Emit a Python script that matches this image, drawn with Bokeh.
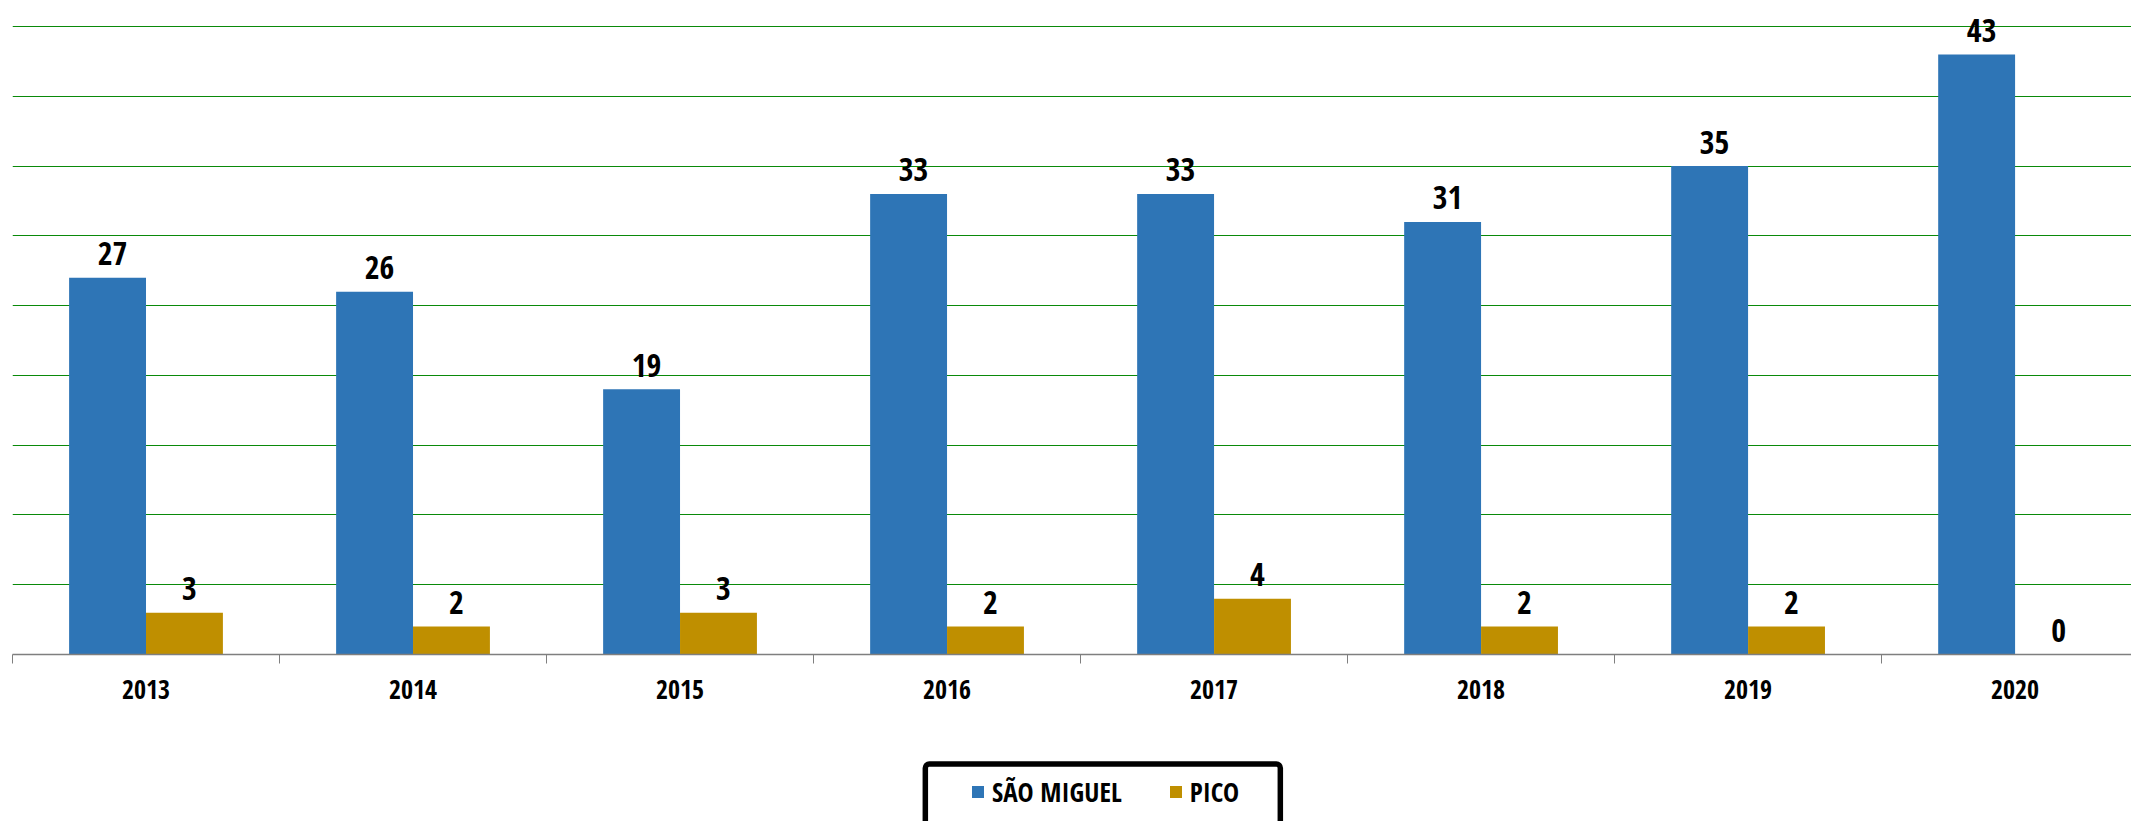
import numpy as np
from bokeh.plotting import figure
from bokeh.layouts import column
from bokeh.models import Range1d, FixedTicker, Legend, LegendItem, ColumnDataSource, BoxAnnotation
from bokeh.core.properties import value
from bokeh.embed import file_html
from bokeh.resources import INLINE

years = ["2013", "2014", "2015", "2016", "2017", "2018", "2019", "2020"]
sao_miguel = [27, 26, 19, 33, 33, 31, 35, 43]
pico = [3, 2, 3, 2, 4, 2, 2, 0]
series_names = ["SÃO MIGUEL", "PICO"]
grid_values = [0, 5, 10, 15, 20, 25, 30, 35, 40, 45]

FONT = "Open Sans Condensed"
BLUE = "#2E75B6"
GOLD = "#BF8F00"

n = len(years)
centers = np.arange(n) + 0.5
bw = 0.288

p = figure(width=2131, height=740, output_backend="svg", toolbar_location=None,
           x_range=Range1d(0, 7.936), y_range=Range1d(0, 46.22),
           min_border_left=12, min_border_right=0, min_border_top=9, min_border_bottom=86)
p.outline_line_color = None

src_b = ColumnDataSource(dict(x=centers - bw / 2, top=sao_miguel, lab=[str(v) for v in sao_miguel]))
src_g = ColumnDataSource(dict(x=centers + bw / 2, top=pico, lab=[str(v) for v in pico]))

p.vbar(x="x", top="top", width=bw, source=src_b, fill_color=BLUE, line_color=None)
p.vbar(x="x", top="top", width=bw, source=src_g, fill_color=GOLD, line_color=None)

for src in (src_b, src_g):
    p.text(x="x", y="top", text="lab", source=src, text_align="center", text_baseline="alphabetic",
           y_offset=-24, x_offset=5, text_font=value(FONT), text_font_size="32px",
           text_font_style="bold", text_color="black")

p.yaxis.visible = False
p.ygrid.ticker = FixedTicker(ticks=grid_values)
p.ygrid.grid_line_color = "#0a8a0a"
p.xgrid.visible = False

ax = p.xaxis[0]
ax.ticker = FixedTicker(ticks=list(centers), minor_ticks=list(np.arange(n + 1)))
ax.major_label_overrides = {float(c): y for c, y in zip(centers, years)}
ax.major_tick_out = 0
ax.major_tick_in = 0
ax.minor_tick_out = 9
ax.minor_tick_in = 0
ax.minor_tick_line_color = "#7f7f7f"
ax.axis_line_color = "#7f7f7f"
ax.axis_line_width = 1.5
ax.major_label_standoff = 16
ax.major_label_text_font = FONT
ax.major_label_text_font_size = "26px"
ax.major_label_text_color = "black"

# legend strip below the chart (pixel-scaled frame)
p2 = figure(width=2131, height=81, output_backend="svg", toolbar_location=None,
            x_range=Range1d(0, 2131), y_range=Range1d(81, 0), x_axis_type=None, y_axis_type=None,
            min_border=0)
p2.outline_line_color = None
lb = p2.vbar(x="x", top="top", width=bw, source=src_b, fill_color=BLUE, line_color=None, visible=False)
lg = p2.vbar(x="x", top="top", width=bw, source=src_g, fill_color=GOLD, line_color=None, visible=False)

frame_box = BoxAnnotation(left=918, right=1275, top=23.5, bottom=100,
                          fill_alpha=0, line_color="black", line_alpha=1, line_width=5.5,
                          border_radius=4)
p2.add_layout(frame_box)

legend = Legend(items=[LegendItem(label=series_names[0], renderers=[lb]),
                       LegendItem(label=series_names[1], renderers=[lg])],
                location=(958, 11), orientation="horizontal",
                glyph_width=15, glyph_height=15, label_standoff=7, spacing=46,
                padding=0, margin=0, label_height=26,
                label_text_font=FONT, label_text_font_size="27px", label_text_font_style="bold",
                label_text_color="black", inactive_fill_alpha=0,
                border_line_color=None, background_fill_alpha=0)
p2.add_layout(legend)

open("out.html", "w").write(file_html(column(p, p2, spacing=0), INLINE))
